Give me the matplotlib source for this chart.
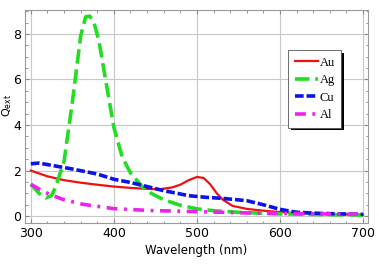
import matplotlib.pyplot as plt
from matplotlib.ticker import MultipleLocator
import matplotlib.patheffects as pe

# wavelengths (nm) and extinction efficiencies
wl_au = [300, 320, 340, 360, 380, 400, 420, 440, 455, 470, 480, 490, 500, 508, 516, 524, 531, 543, 560, 580, 600, 620, 650, 700]
q_au = [2.0, 1.75, 1.58, 1.47, 1.38, 1.3, 1.24, 1.2, 1.18, 1.26, 1.38, 1.58, 1.72, 1.68, 1.4, 1.0, 0.73, 0.45, 0.32, 0.24, 0.18, 0.14, 0.1, 0.06]

wl_ag = [300, 310, 318, 325, 330, 340, 350, 360, 366, 371, 376, 382, 390, 400, 410, 420, 434, 445, 460, 480, 500, 520, 550, 600, 650, 700]
q_ag = [1.4, 1.0, 0.8, 0.9, 1.3, 2.4, 5.0, 7.9, 8.75, 8.78, 8.5, 7.7, 6.0, 3.9, 2.6, 1.9, 1.3, 1.0, 0.72, 0.48, 0.32, 0.24, 0.17, 0.1, 0.07, 0.05]

wl_cu = [300, 310, 330, 350, 380, 400, 420, 440, 460, 490, 510, 531, 560, 580, 600, 620, 650, 700]
q_cu = [2.3, 2.33, 2.2, 2.07, 1.85, 1.62, 1.48, 1.3, 1.12, 0.9, 0.83, 0.78, 0.68, 0.5, 0.3, 0.17, 0.12, 0.08]

wl_al = [300, 312, 323, 340, 363, 400, 443, 500, 550, 600, 650, 700]
q_al = [1.4, 1.15, 0.95, 0.72, 0.52, 0.33, 0.25, 0.2, 0.15, 0.12, 0.1, 0.08]

fig = plt.figure(figsize=(3.79, 2.64), dpi=100)
ax = fig.add_axes([25 / 379, 1 - 223 / 264, (368 - 25) / 379, (223 - 10) / 264])

ax.plot(wl_au, q_au, color="#ee1111", lw=1.6, label="Au")
ax.plot(wl_ag, q_ag, color="#22dd22", lw=2.6, dashes=(4, 1.6), label="Ag")
ax.plot(wl_cu, q_cu, color="#0a14e6", lw=2.6, dashes=(2.4, 0.8), label="Cu")
ax.plot(wl_al, q_al, color="#ee22ee", lw=2.6, dashes=(3, 1.8, 0.8, 1.8), label="Al")

ax.set_xlim(293, 706)
ax.set_ylim(-0.3, 9.05)
ax.xaxis.set_major_locator(MultipleLocator(100))
ax.xaxis.set_minor_locator(MultipleLocator(20))
ax.yaxis.set_major_locator(MultipleLocator(2))
ax.yaxis.set_minor_locator(MultipleLocator(0.5))
ax.grid(True, which="major", color="#c8c8c8", lw=0.8)
ax.tick_params(which="both", direction="in", top=True, right=True,
               color="#888888", labelsize=9, pad=3)
ax.tick_params(which="major", length=3)
ax.tick_params(which="minor", length=1.8)
for s in ax.spines.values():
    s.set_color("#999999")
    s.set_linewidth(0.8)

ax.set_xlabel("Wavelength (nm)", fontsize=8.5, labelpad=3)
ax.set_ylabel(r"Q$_{\rm ext}$", fontsize=8)
ax.yaxis.set_label_coords(-0.033, 0.55)

leg = ax.legend(loc="upper left", bbox_to_anchor=(257 / 343, 1 - 34 / 213),
                prop={"family": "Liberation Serif", "size": 9},
                handlelength=1.9, handletextpad=0.1, labelspacing=0.45,
                borderpad=0.5, fancybox=False, framealpha=1,
                edgecolor="#555555")
leg.get_frame().set_linewidth(0.6)
leg.get_frame().set_path_effects([pe.SimplePatchShadow(offset=(2, -2), shadow_rgbFace="black", alpha=1), pe.Normal()])

fig.savefig("out.png", dpi=100)
